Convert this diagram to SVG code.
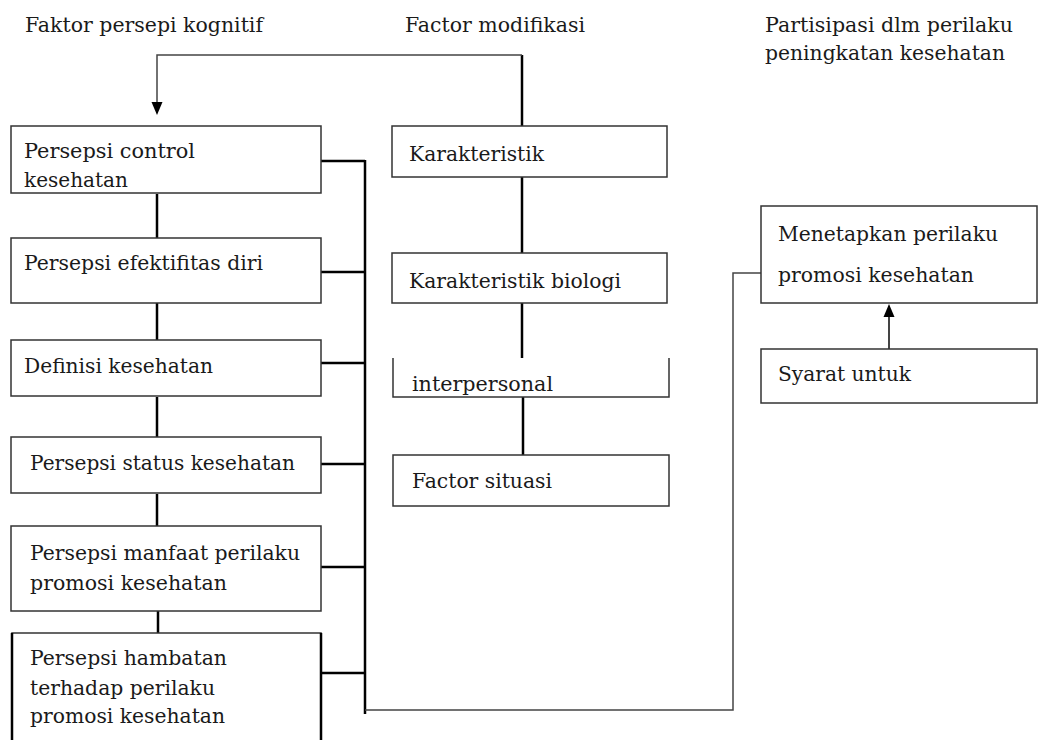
<svg xmlns="http://www.w3.org/2000/svg" width="1038" height="740" viewBox="0 0 1038 740">
<style>
text{font-family:"DejaVu Serif","Liberation Serif",serif;font-size:21px;fill:#1a1a1a}
#headers text{font-size:20px}
.box{fill:#fff;stroke:#333;stroke-width:1.5}
.thick{fill:none;stroke:#000;stroke-width:2.5}
.thin{fill:none;stroke:#444;stroke-width:1.5}
.head{fill:#000}
</style>
<rect width="1038" height="740" fill="#fff"/>
<g id="headers">
<text x="25" y="32" textLength="238" lengthAdjust="spacingAndGlyphs">Faktor persepi kognitif</text>
<text x="405" y="32" textLength="180" lengthAdjust="spacingAndGlyphs">Factor modifikasi</text>
<text x="765" y="32" textLength="248" lengthAdjust="spacingAndGlyphs">Partisipasi dlm perilaku</text>
<text x="765" y="60" textLength="240" lengthAdjust="spacingAndGlyphs">peningkatan kesehatan</text>
</g>
<g id="connectors">
<path class="thick" d="M522 126V55"/>
<path class="thin" d="M522 55H157V103"/>
<path class="head" d="M151.5 102H162.5L157 115Z"/>
<path class="thick" d="M157 194V239M157 303V340M157 397V437M157 494V526M158 611V640"/>
<path class="thick" d="M365 160V714M319 161H365M319 272H365M319 363H365M319 464H365M319 567H365M321 673H365"/>
<path class="thin" d="M365 710H733V273H761"/>
<path class="thick" d="M522 177V253M522 303V359M523 397V455"/>
<path fill="none" stroke="#444" stroke-width="2" d="M889 349V316"/>
<path class="head" d="M883.5 317H894.5L889 304Z"/>
</g>
<g id="n1"><rect class="box" x="11" y="126" width="310" height="67"/>
<text x="24" y="158" textLength="171" lengthAdjust="spacingAndGlyphs">Persepsi control</text>
<text x="24" y="187" textLength="104" lengthAdjust="spacingAndGlyphs">kesehatan</text></g>
<g id="n2"><rect class="box" x="11" y="238" width="310" height="65"/>
<text x="24" y="270" textLength="239" lengthAdjust="spacingAndGlyphs">Persepsi efektifitas diri</text></g>
<g id="n3"><rect class="box" x="11" y="340" width="310" height="56"/>
<text x="24" y="373" textLength="189" lengthAdjust="spacingAndGlyphs">Definisi kesehatan</text></g>
<g id="n4"><rect class="box" x="11" y="437" width="310" height="56"/>
<text x="30" y="470" textLength="265" lengthAdjust="spacingAndGlyphs">Persepsi status kesehatan</text></g>
<g id="n5"><rect class="box" x="11" y="526" width="310" height="85"/>
<text x="30" y="560" textLength="270" lengthAdjust="spacingAndGlyphs">Persepsi manfaat perilaku</text>
<text x="30" y="590" textLength="197" lengthAdjust="spacingAndGlyphs">promosi kesehatan</text></g>
<g id="n6"><rect class="box" x="12" y="633" width="309" height="120"/>
<path class="thick" d="M12 633V740M321 633V740" stroke-width="3"/>
<text x="30" y="665" textLength="197" lengthAdjust="spacingAndGlyphs">Persepsi hambatan</text>
<text x="30" y="695" textLength="185" lengthAdjust="spacingAndGlyphs">terhadap perilaku</text>
<text x="30" y="723" textLength="195" lengthAdjust="spacingAndGlyphs">promosi kesehatan</text></g>
<g id="m1"><rect class="box" x="392" y="126" width="275" height="51"/>
<text x="409" y="161" textLength="135" lengthAdjust="spacingAndGlyphs">Karakteristik</text></g>
<g id="m2"><rect class="box" x="392" y="253" width="275" height="50"/>
<text x="409" y="288" textLength="212" lengthAdjust="spacingAndGlyphs">Karakteristik biologi</text></g>
<g id="m3"><path class="box" fill="none" d="M393 358V397H669V358"/>
<text x="412" y="391" textLength="141" lengthAdjust="spacingAndGlyphs">interpersonal</text></g>
<g id="m4"><rect class="box" x="393" y="455" width="276" height="51"/>
<text x="412" y="488" textLength="140" lengthAdjust="spacingAndGlyphs">Factor situasi</text></g>
<g id="r1"><rect class="box" x="761" y="206" width="276" height="97"/>
<text x="778" y="241" textLength="220" lengthAdjust="spacingAndGlyphs">Menetapkan perilaku</text>
<text x="778" y="282" textLength="196" lengthAdjust="spacingAndGlyphs">promosi kesehatan</text></g>
<g id="r2"><rect class="box" x="761" y="349" width="276" height="54"/>
<text x="778" y="381" textLength="133" lengthAdjust="spacingAndGlyphs">Syarat untuk</text></g>
</svg>
